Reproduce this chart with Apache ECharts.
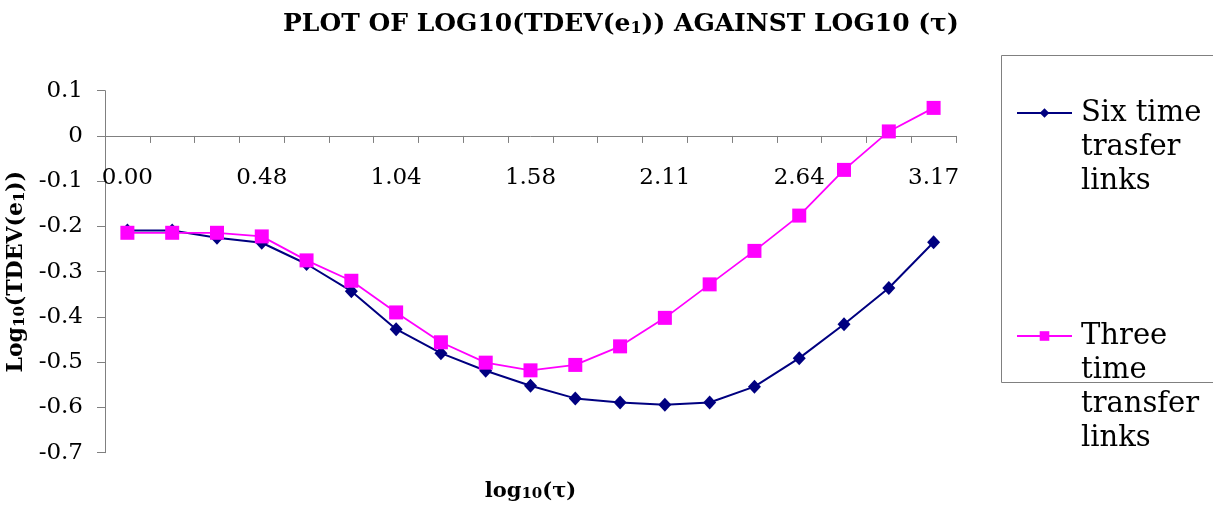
<!DOCTYPE html>
<html>
<head>
<meta charset="utf-8">
<script src="https://cdn.jsdelivr.net/npm/echarts@6/dist/echarts.min.js"></script>
<style>
  html, body { margin: 0; padding: 0; background: #ffffff; }
  #chart { width: 1213px; height: 508px; }
</style>
</head>
<body>
<div id="chart"></div>
<script>
// log10(tau) tick labels (only every third position carries a label)
const tauLabels = ['0.00', '', '', '0.48', '', '', '1.04', '', '', '1.58', '', '', '2.11', '', '', '2.64', '', '', '3.17'];

// log10(TDEV(e1)) for each configuration
const sixLinks = [-0.209, -0.209, -0.225, -0.236, -0.283, -0.343, -0.427, -0.480, -0.519, -0.552,
                  -0.580, -0.589, -0.594, -0.589, -0.554, -0.491, -0.416, -0.336, -0.235];
const threeLinks = [-0.214, -0.214, -0.214, -0.222, -0.275, -0.320, -0.390, -0.456, -0.501, -0.518,
                    -0.506, -0.465, -0.402, -0.328, -0.254, -0.176, -0.075, 0.010, 0.062];

const seriesNames = ['Six time trasfer links', 'Three time transfer links'];
const legendLines = {
  'Six time trasfer links': ['Six time', 'trasfer', 'links'],
  'Three time transfer links': ['Three', 'time', 'transfer', 'links']
};

const yMin = -0.7, yMax = 0.1, yStep = 0.1;

const SERIF = '"DejaVu Serif", "Liberation Serif", serif';
const AXIS_GRAY = '#808080';

// plot area
const GRID = { left: 105, right: 257, top: 90.7, bottom: 55.3 };
const plotHeight = 508 - GRID.top - GRID.bottom;
// the category axis crosses the value axis at y = 0
const zeroOffset = -plotHeight * (0 - yMin) / (yMax - yMin);

const subStyle = (size) => ({
  fontFamily: SERIF, fontWeight: 'bold', fontSize: size, color: '#000',
  verticalAlign: 'bottom', lineHeight: size
});

const chart = echarts.init(document.getElementById('chart'), null, { renderer: 'canvas' });

chart.setOption({
  backgroundColor: '#ffffff',
  animation: false,
  title: {
    text: 'PLOT OF LOG10(TDEV(e{s|1})) AGAINST LOG10 (τ)',
    left: 278,
    top: 7,
    textStyle: {
      fontFamily: SERIF, fontWeight: 'bold', fontSize: 25, color: '#000',
      rich: { s: subStyle(16) }
    }
  },
  legend: {
    orient: 'vertical',
    left: 1016,
    top: 28,
    padding: 0,
    itemGap: 19,
    itemWidth: 55,
    itemHeight: 12,
    selectedMode: false,
    data: seriesNames,
    formatter: (name) => {
      const lines = legendLines[name];
      return '\n'.repeat(lines.length - 1) + lines.join('\n');
    },
    textStyle: {
      fontFamily: SERIF, fontSize: 29, lineHeight: 34, color: '#000',
      padding: [0, 0, 0, 4]
    }
  },
  graphic: [{
    type: 'rect',
    shape: { x: 1001.5, y: 55.5, width: 240, height: 327 },
    style: { fill: 'none', stroke: AXIS_GRAY, lineWidth: 1 },
    silent: true
  }],
  grid: {
    left: GRID.left, right: GRID.right, top: GRID.top, bottom: GRID.bottom,
    containLabel: false,
    outerBoundsMode: 'none'
  },
  xAxis: {
    type: 'category',
    data: tauLabels,
    boundaryGap: true,
    offset: zeroOffset,
    name: 'log{s|10}(τ)',
    nameLocation: 'middle',
    nameGap: 345,
    nameTextStyle: {
      fontFamily: SERIF, fontWeight: 'bold', fontSize: 21, color: '#000',
      rich: { s: subStyle(15) }
    },
    axisLine: { onZero: false, lineStyle: { color: AXIS_GRAY, width: 1 } },
    axisTick: { show: true, interval: 0, length: 7, inside: false, lineStyle: { color: AXIS_GRAY } },
    axisLabel: {
      interval: 0, margin: 31,
      fontFamily: SERIF, fontSize: 23, color: '#000'
    },
    splitLine: { show: false }
  },
  yAxis: {
    type: 'value',
    min: yMin, max: yMax, interval: yStep,
    name: 'Log{s|10}(TDEV(e{s|1}))',
    nameLocation: 'middle',
    nameRotate: 90,
    nameGap: 63,
    nameTextStyle: {
      fontFamily: SERIF, fontWeight: 'bold', fontSize: 22, color: '#000',
      rich: { s: subStyle(15) }
    },
    axisLine: { show: true, lineStyle: { color: AXIS_GRAY, width: 1 } },
    axisTick: { show: true, length: 8, inside: false, lineStyle: { color: AXIS_GRAY } },
    axisLabel: {
      margin: 22,
      fontFamily: SERIF, fontSize: 23, color: '#000',
      formatter: (v) => String(Number(v.toFixed(1)))
    },
    splitLine: { show: false }
  },
  series: [
    {
      name: seriesNames[0],
      type: 'line',
      data: sixLinks,
      symbol: 'diamond',
      symbolSize: [13, 14],
      showAllSymbol: true,
      lineStyle: { color: '#000080', width: 2 },
      itemStyle: { color: '#000080' },
      z: 2
    },
    {
      name: seriesNames[1],
      type: 'line',
      data: threeLinks,
      symbol: 'rect',
      symbolSize: 14,
      showAllSymbol: true,
      lineStyle: { color: '#ff00ff', width: 1.8 },
      itemStyle: { color: '#ff00ff' },
      z: 3
    }
  ]
});
</script>
</body>
</html>
